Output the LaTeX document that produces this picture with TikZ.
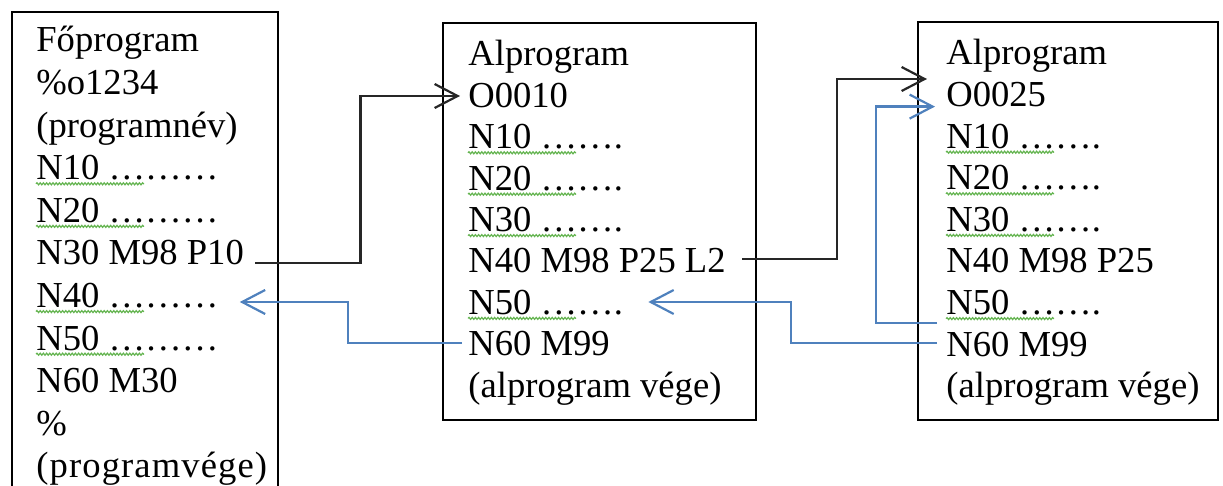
\documentclass[tikz,border=0pt]{standalone}
\usepackage{fontspec}
\setmainfont{Liberation Serif}
\usetikzlibrary{arrows.meta,calc,decorations.pathmorphing}
\definecolor{wordblue}{RGB}{79,129,189}
\definecolor{spellgreen}{RGB}{100,180,80}
\tikzset{
  ln/.style={anchor=base west, inner sep=0pt, font=\fontsize{18.3}{21}\selectfont},
  frame/.style={draw=black, line width=1.2pt},
  barb/.style={-{Straight Barb[length=11.5pt,width=12pt,line width=1.1pt]}},
  blk/.style={draw=black!85, line width=1.3pt, barb},
  blu/.style={draw=wordblue, line width=1.3pt, barb},
  squig/.style={draw=spellgreen, line width=0.6pt,
    decorate, decoration={snake, segment length=1.6pt, amplitude=0.5pt}}
}
\begin{document}
\begin{tikzpicture}[x=0.5pt,y=-0.5pt]
\useasboundingbox (0,0) rectangle (1223,486);
% frames
\draw[frame] (12,486) -- (12,12) -- (278,12) -- (278,486);
\draw[frame] (443,23) rectangle (756,420);
\draw[frame] (918,22) rectangle (1218,420);
% box 1
\node[ln] (a0) at (36,52) {Főprogram};
\node[ln] (a1) at (36,94.6) {\%o1234};
\node[ln] (a2) at (36,137.2) {(programnév)};
\node[ln] (a3) at (36,179.8) {N10 ………};
\node[ln] (a4) at (36,222.4) {N20 ………};
\node[ln] (a5) at (36,265) {N30 M98 P10};
\node[ln] (a6) at (36,307.6) {N40 ………};
\node[ln] (a7) at (36,350.2) {N50 ………};
\node[ln] (a8) at (36,392.8) {N60 M30};
\node[ln] (a9) at (36,435.4) {\%};
\node[ln] (a10) at (36,478) {\addfontfeature{LetterSpace=3}(programvége)};
% box 2
\node[ln] (b0) at (468,66) {Alprogram};
\node[ln] (b1) at (468,107.4) {O0010};
\node[ln] (b2) at (468,148.8) {N10 …….};
\node[ln] (b3) at (468,190.2) {N20 …….};
\node[ln] (b4) at (468,231.6) {N30 …….};
\node[ln] (b5) at (468,273) {N40 M98 P25 L2};
\node[ln] (b6) at (468,314.4) {N50 …….};
\node[ln] (b7) at (468,355.8) {N60 M99};
\node[ln] (b8) at (468,397.2) {(alprogram vége)};
% box 3
\node[ln] (c0) at (946,65) {Alprogram};
\node[ln] (c1) at (946,106.6) {O0025};
\node[ln] (c2) at (946,148.2) {N10 …….};
\node[ln] (c3) at (946,189.8) {N20 …….};
\node[ln] (c4) at (946,231.4) {N30 …….};
\node[ln] (c5) at (946,273) {N40 M98 P25};
\node[ln] (c6) at (946,314.6) {N50 …….};
\node[ln] (c7) at (946,356.2) {N60 M99};
\node[ln] (c8) at (946,397.8) {(alprogram vége)};
% spell-check squiggles
\foreach \n in {a3,a4,a6,a7,b2,b3,b4,b6,c2,c3,c4,c6}
  \draw[squig] ($(\n.base west)+(0,4)$) -- ++(108,0);
% connectors
\draw[blk] ($(a5.base east)+(11,-2)$) -- ++(105,0) |- ($(b1.base west)+(-8,-11.4)$);
\draw[blu] ($(b7.base west)+(-6,-12.8)$) -- ++(-114,0) |- ($(a6.base east)+(21,-5.6)$);
\draw[blk] ($(b5.base east)+(16,-14)$) -- ++(95,0) |- ($(c1.base west)+(-19,-27.6)$);
\draw[blu] ($(c7.base west)+(-9,-13.2)$) -- ++(-146,0) |- ($(b6.base east)+(25,-12.4)$);
\draw[blu] ($(c6.base west)+(-9,8.4)$) -- ++(-61,0) |- ($(c1.base west)+(-11,0)$);
\end{tikzpicture}
\end{document}
